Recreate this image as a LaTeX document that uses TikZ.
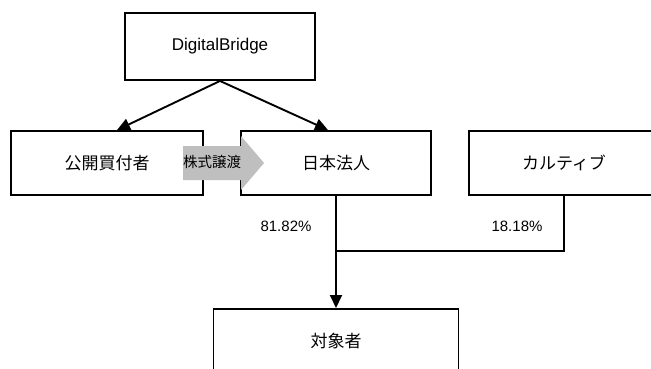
\documentclass[tikz,border=0pt]{standalone}
\usepackage{fontspec}
\setmainfont{Liberation Sans}
\newfontfamily\jpfont{Noto Sans CJK JP}
\usetikzlibrary{arrows.meta,calc}
\begin{document}
\begin{tikzpicture}[x=1pt,y=-1pt,
  box/.style={draw=black,line width=1.9pt,fill=white,inner sep=0pt,font=\jpfont\fontsize{17}{20}\selectfont},
  conn/.style={line width=1.9pt,draw=black},
  tip/.style={-{Triangle[length=13pt,width=12pt]}},
  pct/.style={font=\fontsize{15}{18}\selectfont,inner sep=0pt}]
\useasboundingbox (0,0) rectangle (651,368);
\fill[white] (0,0) rectangle (651,368);
\node[box,minimum width=190pt,minimum height=67pt,font=\fontsize{17}{20}\selectfont] (db) at (220,46.5) {DigitalBridge};
\node[box,minimum width=192pt,minimum height=64pt] (kb) at (107,163) {公開買付者};
\node[box,minimum width=190pt,minimum height=64pt] (jp) at (336,163) {日本法人};
\node[box,minimum width=190pt,minimum height=64pt] (kt) at (564,163) {カルティブ};
\node[box,minimum width=245pt,minimum height=64pt,anchor=north] (tg) at (336,308) {対象者};
\coordinate (kbin) at ($(kb.north)+(10,0)$);
\coordinate (jpin) at ($(jp.north)+(-8,0)$);
\draw[conn,tip] (db.south) -- (kbin);
\draw[conn,tip] (db.south) -- (jpin);
\coordinate (m) at (336,251);
\draw[conn] (kt.south) |- (m);
\draw[conn,tip] (jp.south) -- (tg.north);
\node[pct] (p1) at (286,226) {81.82\%};
\node[pct] (p2) at (517,226) {18.18\%};
\fill[black!25] (183,146) -- (241,146) -- (241,136) -- (264,163) -- (241,190) -- (241,180) -- (183,180) -- cycle;
\node[font=\jpfont\fontsize{14.5}{17}\selectfont,inner sep=0pt] (tr) at (212,162) {株式譲渡};
\end{tikzpicture}
\end{document}
